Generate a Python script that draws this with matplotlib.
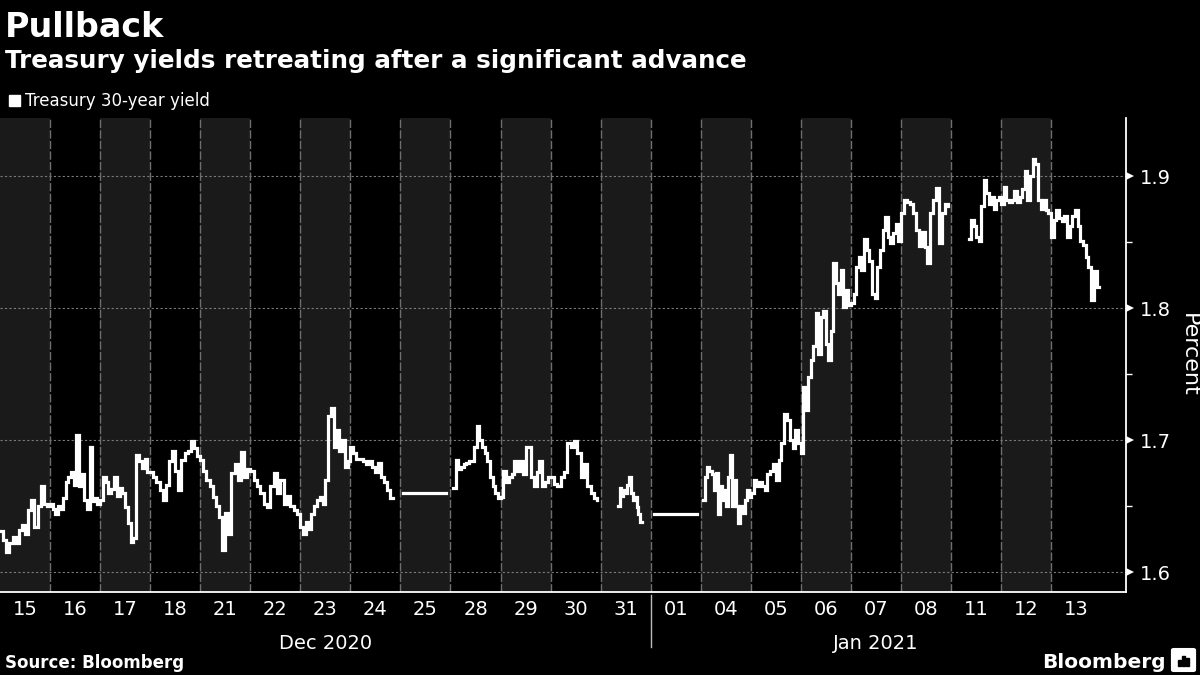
import matplotlib
matplotlib.use("Agg")
import matplotlib.pyplot as plt
import numpy as np
from matplotlib.patches import Rectangle, FancyBboxPatch

# ---------------- data ----------------
day_labels = ["15", "16", "17", "18", "21", "22", "23", "24", "25", "28", "29", "30",
              "31", "01", "04", "05", "06", "07", "08", "11", "12", "13"]
month_labels = ["Dec 2020", "Jan 2021"]
month_first_day = [0, 13]
y_major = [1.6, 1.7, 1.8, 1.9]
y_minor = [1.65, 1.75, 1.85]

dec15 = [1.631, 1.624, 1.615, 1.622, 1.627, 1.622, 1.632, 1.636, 1.629, 1.647, 1.655,
         1.634, 1.650, 1.665, 1.652, 1.650]
dec16 = [1.652, 1.648, 1.644, 1.650, 1.648, 1.656, 1.668, 1.672, 1.676, 1.666, 1.704,
         1.665, 1.674, 1.655, 1.648, 1.695, 1.654, 1.656, 1.652]
dec17 = [1.655, 1.672, 1.668, 1.660, 1.663, 1.672, 1.658, 1.664, 1.660, 1.649, 1.637,
         1.623, 1.626, 1.689, 1.684, 1.679, 1.686, 1.676]
dec18 = [1.676, 1.672, 1.668, 1.662, 1.655, 1.666, 1.684, 1.692, 1.677, 1.662, 1.685,
         1.690, 1.692, 1.699, 1.694, 1.688]
dec21 = [1.685, 1.677, 1.670, 1.665, 1.657, 1.650, 1.642, 1.617, 1.645, 1.629, 1.675,
         1.682, 1.670, 1.691, 1.672, 1.678]
dec22 = [1.677, 1.670, 1.665, 1.660, 1.652, 1.649, 1.665, 1.675, 1.660, 1.670, 1.652,
         1.658, 1.650, 1.647, 1.644]
dec23 = [1.634, 1.629, 1.638, 1.633, 1.644, 1.650, 1.655, 1.657, 1.652, 1.670, 1.718,
         1.724, 1.695, 1.708, 1.692, 1.700, 1.680, 1.684]
dec24 = [1.695, 1.690, 1.686, 1.686, 1.684, 1.682, 1.684, 1.680, 1.676, 1.683, 1.672,
         1.668, 1.662, 1.656]
dec25 = [1.660]
dec28 = [1.664, 1.685, 1.678, 1.680, 1.682, 1.683, 1.684, 1.684, 1.695, 1.711, 1.700,
         1.695, 1.690, 1.684, 1.672, 1.665, 1.660, 1.656]
dec29 = [1.657, 1.677, 1.668, 1.672, 1.674, 1.684, 1.677, 1.684, 1.674, 1.695, 1.695,
         1.672, 1.665, 1.676, 1.684, 1.665, 1.668, 1.672]
dec30 = [1.672, 1.667, 1.665, 1.672, 1.676, 1.698, 1.695, 1.699, 1.690, 1.672, 1.682,
         1.665, 1.660, 1.656, 1.655]
dec31 = [1.650, 1.664, 1.658, 1.662, 1.660, 1.666, 1.672, 1.660, 1.655, 1.657, 1.649,
         1.644, 1.638]
jan01 = [1.644]
jan04 = [1.655, 1.672, 1.680, 1.677, 1.674, 1.662, 1.675, 1.644, 1.665, 1.655, 1.662,
         1.650, 1.672, 1.689, 1.650, 1.670, 1.650, 1.637, 1.650, 1.645, 1.655, 1.662, 1.657]
jan05 = [1.660, 1.670, 1.665, 1.668, 1.665, 1.662, 1.674, 1.677, 1.682, 1.670, 1.685,
         1.698, 1.720, 1.715, 1.700, 1.694, 1.708, 1.698]
jan06 = [1.690, 1.740, 1.723, 1.748, 1.761, 1.771, 1.796, 1.765, 1.793, 1.798, 1.773,
         1.761, 1.783, 1.834, 1.819, 1.811, 1.829, 1.801, 1.814, 1.802]
jan07 = [1.804, 1.811, 1.831, 1.839, 1.829, 1.852, 1.844, 1.836, 1.811, 1.808, 1.831,
         1.844, 1.859, 1.869, 1.854, 1.849, 1.857, 1.864, 1.851]
jan08 = [1.872, 1.882, 1.880, 1.879, 1.872, 1.859, 1.847, 1.858, 1.846, 1.834, 1.872,
         1.882, 1.891, 1.849, 1.872, 1.879, 1.877]
jan11 = [1.852, 1.867, 1.862, 1.854, 1.851, 1.877, 1.897, 1.887, 1.879, 1.884, 1.875,
         1.882, 1.884]
jan12 = [1.879, 1.892, 1.882, 1.880, 1.882, 1.889, 1.880, 1.884, 1.890, 1.904, 1.882,
         1.900, 1.913, 1.909, 1.882, 1.875, 1.882, 1.874, 1.872]
jan13 = [1.854, 1.867, 1.874, 1.868, 1.866, 1.870, 1.854, 1.862, 1.870, 1.874, 1.862,
         1.851, 1.848, 1.839, 1.831, 1.806, 1.828, 1.816]

daily_values = [dec15, dec16, dec17, dec18, dec21, dec22, dec23, dec24, dec25, dec28,
                dec29, dec30, dec31, jan01, jan04, jan05, jan06, jan07, jan08, jan11,
                jan12, jan13]
# trading session within each day (fraction of the day slot)
session_start = [0, 0, 0, 0, 0, 0, 0, 0, 0.06, 0.05, 0, 0, 0.34, 0.06, 0.05, 0, 0, 0, 0,
                 0.35, 0, 0]
session_end = [1, 1, 1, 1, 1, 1, 1, 0.85, 0.92, 1, 1, 1, 0.83, 0.92, 1, 1, 1, 1, 1, 1, 1,
               0.96]

# ---------------- build series ----------------
xs, ys = [], []
prev_end = 1
for i, vals in enumerate(daily_values):
    s, e = session_start[i], session_end[i]
    if i > 0 and (prev_end < 1 or s > 0):
        xs.append(np.nan)
        ys.append(np.nan)
    n = len(vals)
    for k, v in enumerate(vals):
        xs.append(i + s + (e - s) * k / n)
        ys.append(v)
    if e < 1 or i == len(daily_values) - 1:
        xs.append(i + e)
        ys.append(vals[-1])
    prev_end = e

# ---------------- figure ----------------
BG = "#000000"
BAND = "#1a1a1a"
fig = plt.figure(figsize=(12, 6.75), dpi=100, facecolor=BG)
ax = fig.add_axes([0.0, 0.123, 0.9385, 0.7022], facecolor=BG)

n_days = len(day_labels)
for i in range(n_days):
    if i % 2 == 0:
        ax.axvspan(i, i + 1, color=BAND, lw=0, zorder=0)
for i in range(1, n_days):
    ax.axvline(i, color="#6e6e6e", lw=1.0, ls=(0, (6, 1.6)), zorder=1)
for yv in y_major:
    ax.axhline(yv, color="#7a7a7a", lw=0.8, ls=(0, (2, 2)), zorder=1)

ax.plot(xs, ys, color="white", lw=2.3, drawstyle="steps-post", zorder=3,
        solid_joinstyle="miter")

ax.set_xlim(0, 22.5)
ax.set_ylim(1.585, 1.944)

# axes styling
for sp in ["top", "left"]:
    ax.spines[sp].set_visible(False)
ax.spines["right"].set_color("white")
ax.spines["bottom"].set_color("white")
ax.spines["right"].set_linewidth(1.3)
ax.spines["bottom"].set_linewidth(1.3)

ax.yaxis.tick_right()
ax.set_yticks(y_major)
ax.set_yticklabels([f"{v:.1f}" for v in y_major])
ax.set_yticks(y_minor, minor=True)
ax.tick_params(axis="y", which="major", colors="white", labelsize=14, length=0,
               pad=10)
ax.tick_params(axis="y", which="minor", colors="white", length=4, width=1.0,
               direction="out")
# triangular major tick marks
ytrans = ax.get_yaxis_transform()
ax.plot([1.0035] * len(y_major), y_major, transform=ytrans, ls="none", marker=">",
        markersize=6, color="white", markeredgewidth=0, clip_on=False, zorder=5)

ax.set_xticks(np.arange(n_days) + 0.5)
ax.set_xticklabels(day_labels)
ax.tick_params(axis="x", which="major", colors="white", labelsize=14, length=0, pad=6)

ax.yaxis.set_label_position("right")
ax.set_ylabel("Percent", color="white", fontsize=16, rotation=-90, labelpad=20)

# month labels and separator
trans = ax.get_xaxis_transform()
for lab, first, nxt in zip(month_labels, month_first_day, month_first_day[1:] + [n_days]):
    ax.text((first + nxt) / 2, -0.108, lab, transform=trans, color="white",
            fontsize=14, ha="center", va="center")
ax.plot([13, 13], [-0.006, -0.116], transform=trans, color="#bbbbbb", lw=1.0,
        clip_on=False)

# titles
fig.text(0.004, 1 - 37 / 675, "Pullback", color="white", fontsize=24,
         fontweight="bold", va="baseline", ha="left")
fig.text(0.004, 1 - 68 / 675, "Treasury yields retreating after a significant advance",
         color="white", fontsize=17.7, fontweight="bold", va="baseline", ha="left")
fig.patches.append(Rectangle((9 / 1200, 1 - 106 / 675), 11 / 1200, 11 / 675,
                             transform=fig.transFigure, color="white"))
fig.text(25 / 1200, 1 - 106 / 675, "Treasury 30-year yield", color="white",
         fontsize=12, va="baseline", ha="left")

fig.text(0.004, 1 - 668 / 675, "Source: Bloomberg", color="white", fontsize=12,
         fontweight="bold", va="baseline", ha="left")
fig.text(1166 / 1200, 1 - 668 / 675, "Bloomberg", color="white", fontsize=14.5,
         fontweight="bold", va="baseline", ha="right")
fig.patches.append(FancyBboxPatch((1174 / 1200, 1 - 670 / 675), 19 / 1200, 20 / 675,
                                  boxstyle="round,pad=0.002", transform=fig.transFigure,
                                  color="white"))
for bx, bh in zip([1178, 1182, 1186], [6, 10, 8]):
    fig.patches.append(Rectangle((bx / 1200, 1 - 666 / 675), 2.5 / 1200, bh / 675,
                                 transform=fig.transFigure, color="black"))

fig.savefig("out.png", dpi=100, facecolor=BG)
